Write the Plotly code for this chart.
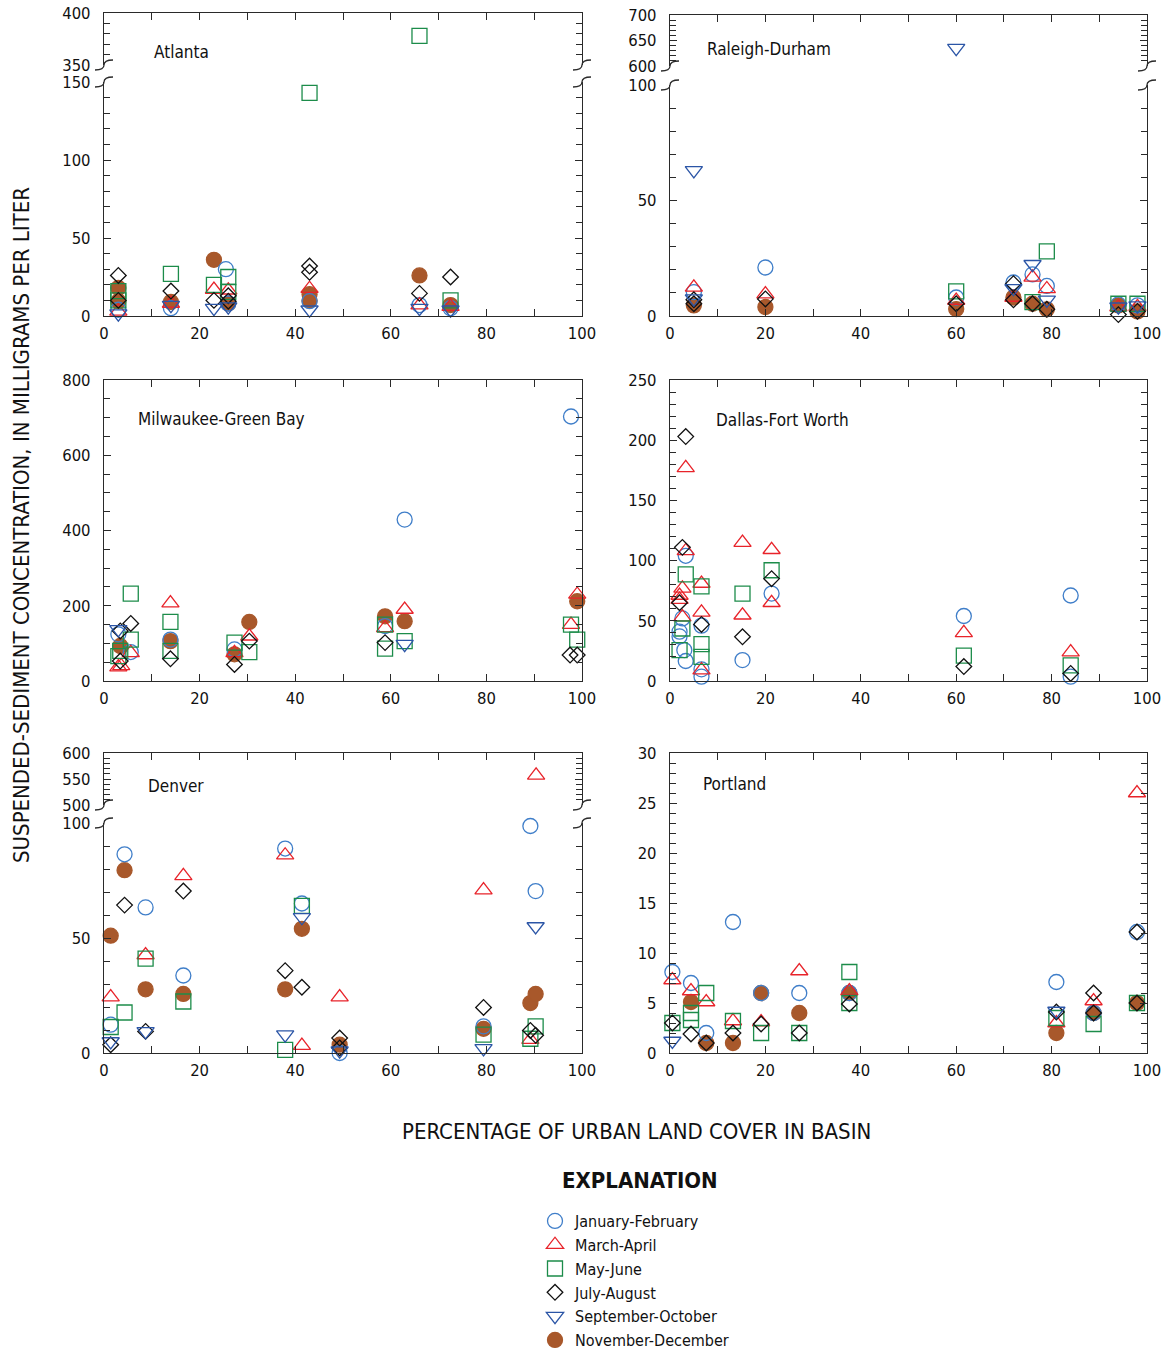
import plotly.graph_objects as go

W, H = 1169, 1354
FONT = "Liberation Sans Narrow, DejaVu Sans Condensed, Arial Narrow, Liberation Sans, sans-serif"

SEASONS = ["January-February", "March-April", "May-June",
           "July-August", "September-October", "November-December"]

# ---------------- data: (percent urban, concentration mg/L) ----------------
ATL_JF = ([3, 14, 25.5, 26, 43, 66, 72.5], [4, 5, 30, 8, 9.5, 7, 5])
ATL_MA = ([3, 14, 23, 26, 43, 66, 72.5], [3, 8, 17, 16.5, 17.5, 7, 6])
ATL_MJ = ([3, 3, 14, 23, 26, 26, 43, 66, 72.5], [16, 10, 27, 20, 25, 15.5, 143, 378, 10])
ATL_JA = ([3, 3, 14, 23, 26, 26, 43, 43, 66, 72.5], [26, 10, 16, 10, 13, 9.5, 32, 28, 14.5, 25])
ATL_SO = ([3, 14, 23, 26, 43, 66, 72.5], [1.5, 7, 5, 6, 4, 5, 4])
ATL_ND = ([3, 3, 14, 23, 26, 43, 43, 66, 72.5], [18, 9.5, 9, 36, 8, 14, 10, 26, 7])

RAL_JF = ([5, 20, 60, 72, 76, 79, 94, 98], [10.3, 21, 8, 14.5, 18, 13, 5, 4.6])
RAL_MA = ([5, 20, 60, 72, 76, 79, 94, 98], [12.4, 9.5, 6.7, 8, 16.7, 11.7, 3.9, 4])
RAL_MJ = ([60, 76, 79, 94, 98], [10.7, 6, 28, 5.3, 5.3])
RAL_JA = ([5, 5, 20, 60, 72, 72, 76, 79, 94, 98], [7, 5.3, 7.4, 5.3, 14, 7, 5.3, 2.9, 0.6, 2])
RAL_SO = ([5, 5, 60, 72, 76, 79, 94, 98], [63, 7.5, 635, 12, 22.4, 7, 4, 4.5])
RAL_ND = ([5, 20, 60, 72, 76, 79, 94, 98], [4.6, 3.9, 3, 8, 5.3, 2.9, 4.6, 2])

MIL_JF = ([3, 5.6, 13.9, 27.3, 58.8, 62.9, 97.7], [124, 77, 110, 84, 146, 429, 703])
MIL_MA = ([3, 3.6, 5.6, 13.9, 27.3, 30.4, 58.8, 62.9, 97.7, 99],
          [37, 40, 75, 207, 75, 119, 141, 190, 150, 230])
MIL_MJ = ([3, 3.4, 5.6, 5.6, 13.9, 13.9, 27.3, 30.4, 58.8, 58.8, 62.9, 97.7, 99],
          [66, 80, 232, 110, 157, 80, 102, 77, 150, 86, 106, 150, 110])
MIL_JA = ([3.4, 3.4, 5.6, 13.9, 27.3, 30.4, 58.8, 97.5, 99], [133, 53, 153, 59, 44, 106, 102, 69, 69])
MIL_SO = ([3, 62.9], [137, 98])
MIL_ND = ([3.4, 13.9, 27.3, 30.4, 58.8, 62.9, 99], [93, 106, 71, 157, 172, 159, 212])

DAL_JF = ([3.3, 2.6, 2, 2, 3, 3.3, 6.6, 6.6, 6.6, 15.2, 21.3, 61.6, 84, 84],
          [104, 52, 41, 37, 25.7, 16.6, 46, 9.7, 3.6, 17.4, 72.6, 54, 71, 3.6])
DAL_MA = ([3.3, 3.3, 2.6, 2, 2, 2.6, 6.6, 6.6, 6.6, 15.2, 15.2, 21.3, 21.3, 61.6, 84],
          [177, 108, 77, 71, 67.6, 53, 81, 57, 9, 115, 54.6, 109, 65, 40, 24])
DAL_MJ = ([3.3, 2.6, 2, 6.6, 6.6, 6.6, 15.2, 21.3, 61.6, 84],
          [88.6, 43.6, 25.7, 78.6, 30.6, 20, 72.6, 92, 21, 13])
DAL_JA = ([3.3, 2.6, 2, 6.6, 15.2, 21.3, 61.6, 84], [203, 111, 65, 47, 36.7, 85, 12, 6.3])
DAL_SO = ([], [])
DAL_ND = ([], [])

DEN_JF = ([1.4, 4.3, 8.7, 16.6, 37.9, 41.4, 49.3, 79.4, 89.2, 90.3],
          [12.3, 86.4, 63.3, 33.7, 88.9, 65, 0, 11.6, 98.7, 70.4])
DEN_MA = ([1.4, 8.7, 16.6, 37.9, 41.4, 49.3, 79.4, 89.2, 90.4],
          [24.3, 42.6, 77, 86, 3.2, 24.3, 70.8, 5.8, 557])
DEN_MJ = ([1.4, 4.3, 8.7, 16.6, 37.9, 41.4, 79.4, 89.2, 90.3],
          [11.3, 17.6, 41, 22.4, 1.4, 64, 8, 6.2, 11.6])
DEN_JA = ([1.4, 4.3, 8.7, 16.6, 37.9, 41.4, 49.3, 49.3, 79.4, 89.2, 90.3],
          [3.6, 64.3, 9.4, 70.4, 35.8, 28.6, 6.5, 2.2, 19.8, 9.8, 7.7])
DEN_SO = ([1.4, 8.7, 37.9, 41.4, 49.3, 79.4, 90.3], [5, 9.4, 8, 59, 1, 2, 55])
DEN_ND = ([1.4, 4.3, 8.7, 16.6, 37.9, 41.4, 49.3, 79.4, 89.2, 90.3],
          [51, 79.5, 27.7, 25.7, 27.7, 54, 3.6, 10.5, 21.7, 25.7])

POR_JF = ([0.5, 4.4, 7.6, 13.2, 19.1, 27.1, 37.6, 81, 88.8, 97.9],
          [8.1, 7, 2, 13.1, 6, 6, 6, 7.1, 4, 12.1])
POR_MA = ([0.5, 4.4, 7.6, 13.2, 19.1, 27.1, 37.6, 81, 88.8, 97.9],
          [7.3, 6.2, 5.1, 3.2, 3.1, 8.2, 6.2, 3, 5.2, 26])
POR_MJ = ([0.5, 4.4, 4.4, 7.6, 13.2, 19.1, 27.1, 37.6, 37.6, 81, 88.8, 97.9],
          [3, 4, 3.3, 6, 3.2, 2, 2, 8.1, 5, 3.5, 2.9, 5])
POR_JA = ([0.5, 4.4, 7.6, 13.2, 19.1, 27.1, 37.6, 81, 88.8, 88.8, 97.9, 97.9],
          [3, 1.9, 1, 2, 2.9, 2, 4.9, 4.1, 6, 4, 12.1, 5])
POR_SO = ([0.5, 81], [1.2, 4.2])
POR_ND = ([4.4, 7.6, 13.2, 19.1, 27.1, 37.6, 81, 88.8, 97.9], [5.1, 1, 1, 6, 4, 6, 2, 4, 5])

# ---------------- styling ----------------
SYMBOLS = ["circle-open", "triangle-up-open", "square-open", "diamond-open",
           "triangle-down-open", "circle"]
COLORS = ["#3f7ec9", "#e8232a", "#1c8c4a", "#111111", "#2b55a6", "#a8582b"]
SIZES = [15, 15, 15, 12, 15, 15]
DRAW_ORDER = [5, 0, 1, 2, 3, 4]
AXC = "#2a2a2a"


def fx(p):
    return p / W


def fy(p):
    return 1 - p / H


# panel layout: x px span, lower (top px, bottom px, min, max, label step, minor step), optional upper
PANELS = [
    dict(name="Atlanta", data=[ATL_JF, ATL_MA, ATL_MJ, ATL_JA, ATL_SO, ATL_ND],
         xpx=(104, 582), low=(82, 316, 0, 150, 50, 10), up=(13, 65, 350, 400, 50, 10),
         label=(152, 52)),
    dict(name="Raleigh-Durham", data=[RAL_JF, RAL_MA, RAL_MJ, RAL_JA, RAL_SO, RAL_ND],
         xpx=(670, 1147), low=(85, 316, 0, 100, 50, 10), up=(15, 66, 600, 700, 50, 10),
         label=(705, 49)),
    dict(name="Milwaukee-Green Bay", data=[MIL_JF, MIL_MA, MIL_MJ, MIL_JA, MIL_SO, MIL_ND],
         xpx=(104, 582), low=(380, 681, 0, 800, 200, 50), up=None, label=(136, 419)),
    dict(name="Dallas-Fort Worth", data=[DAL_JF, DAL_MA, DAL_MJ, DAL_JA, DAL_SO, DAL_ND],
         xpx=(670, 1147), low=(380, 681, 0, 250, 50, 10), up=None, label=(714, 420)),
    dict(name="Denver", data=[DEN_JF, DEN_MA, DEN_MJ, DEN_JA, DEN_SO, DEN_ND],
         xpx=(104, 582), low=(823, 1053, 0, 100, 50, 10), up=(753, 805, 500, 600, 50, 10),
         label=(146, 786)),
    dict(name="Portland", data=[POR_JF, POR_MA, POR_MJ, POR_JA, POR_SO, POR_ND],
         xpx=(670, 1147), low=(753, 1053, 0, 30, 5, 1), up=None, label=(701, 784)),
]

fig = go.Figure()
layout = {}
annotations = []
shapes = []

tickfont = dict(family=FONT, size=16.5, color="#111111")
common = dict(showline=True, linecolor=AXC, linewidth=1.3, ticks="inside",
              tickcolor=AXC, tickwidth=1.2, ticklen=7, showgrid=False, zeroline=False,
              tickfont=tickfont, fixedrange=True, automargin=False)


def names(n):
    s = "" if n == 1 else str(n)
    return "xaxis" + s, "yaxis" + s, "x" + s, "y" + s


n = 0
first = True
for p in PANELS:
    xd = [fx(p["xpx"][0]), fx(p["xpx"][1])]
    broken = p["up"] is not None
    n += 1
    lo = n
    xa, ya, xr, yr = names(lo)
    ltop, lbot, lmin, lmax, lstep, lminor = p["low"]
    layout[xa] = dict(common, domain=xd, anchor=yr, range=[0, 100], dtick=20, tick0=0,
                      minor=dict(dtick=10, ticks="inside", ticklen=7, tickcolor=AXC),
                      mirror=False if broken else "ticks", ticklabelstandoff=2)
    layout[ya] = dict(common, domain=[fy(lbot), fy(ltop)], anchor=xr, range=[lmin, lmax],
                      dtick=lstep, tick0=0, mirror="ticks", ticklabelstandoff=9,
                      minor=dict(dtick=lminor, ticks="inside", ticklen=6, tickcolor=AXC))
    axes_low = (xr, yr)
    axes_up = None
    if broken:
        n += 1
        xa2, ya2, xr2, yr2 = names(n)
        utop, ubot, umin, umax, ustep, uminor = p["up"]
        layout[xa2] = dict(common, domain=xd, anchor=yr2, range=[0, 100], dtick=20, tick0=0,
                           side="top", showticklabels=False, mirror=False,
                           minor=dict(dtick=10, ticks="inside", ticklen=7, tickcolor=AXC))
        layout[ya2] = dict(common, domain=[fy(ubot), fy(utop)], anchor=xr2,
                           range=[umin, umax], dtick=ustep, tick0=0, mirror="ticks",
                           ticklabelstandoff=9,
                           minor=dict(dtick=uminor, ticks="inside", ticklen=6, tickcolor=AXC))
        axes_up = (xr2, yr2)
        # break marks on both sides at both segment ends
        for xp in p["xpx"]:
            for yp in (ubot, ltop):
                path = (f"M {fx(xp - 9)},{fy(yp + 5)} Q {fx(xp)},{fy(yp + 5)} {fx(xp)},{fy(yp)} "
                        f"Q {fx(xp)},{fy(yp - 5)} {fx(xp + 9)},{fy(yp - 5)}")
                shapes.append(dict(type="path", xref="paper", yref="paper", path=path,
                                   line=dict(color=AXC, width=1.3)))

    for si in DRAW_ORDER:
        xs, ys = p["data"][si]
        lx = [x for x, y in zip(xs, ys) if y <= lmax]
        ly = [y for y in ys if y <= lmax]
        ux = [x for x, y in zip(xs, ys) if y > lmax]
        uy = [y for y in ys if y > lmax]
        marker = dict(symbol=SYMBOLS[si], size=SIZES[si], color=COLORS[si],
                      line=dict(color=COLORS[si], width=1.3))
        fig.add_trace(go.Scatter(x=lx, y=ly, mode="markers", marker=marker,
                                 xaxis=axes_low[0], yaxis=axes_low[1], name=SEASONS[si],
                                 showlegend=first, legendrank=si + 1, cliponaxis=False))
        if broken and ux:
            fig.add_trace(go.Scatter(x=ux, y=uy, mode="markers", marker=marker,
                                     xaxis=axes_up[0], yaxis=axes_up[1], name=SEASONS[si],
                                     showlegend=False, cliponaxis=False))
    first = False

    annotations.append(dict(text=p["name"], xref="paper", yref="paper",
                            x=fx(p["label"][0]), y=fy(p["label"][1]), xanchor="left",
                            yanchor="middle", showarrow=False,
                            font=dict(family=FONT, size=17, color="#111111")))

annotations += [
    dict(text="SUSPENDED-SEDIMENT CONCENTRATION, IN MILLIGRAMS PER LITER", xref="paper",
         yref="paper", x=fx(22), y=fy(525), textangle=-90, showarrow=False,
         xanchor="center", yanchor="middle",
         font=dict(family=FONT, size=22, color="#111111")),
    dict(text="PERCENTAGE OF URBAN LAND COVER IN BASIN", xref="paper", yref="paper",
         x=fx(636), y=fy(1131), showarrow=False, xanchor="center", yanchor="middle",
         font=dict(family=FONT, size=22, color="#111111")),
    dict(text="<b>EXPLANATION</b>", xref="paper", yref="paper", x=fx(640), y=fy(1180),
         showarrow=False, xanchor="center", yanchor="middle",
         font=dict(family=FONT, size=22, color="#111111")),
]

fig.update_layout(
    width=W, height=H, autosize=False,
    margin=dict(l=0, r=0, t=0, b=0, autoexpand=False),
    paper_bgcolor="white", plot_bgcolor="white",
    showlegend=True,
    legend=dict(x=fx(535), y=fy(1204), xanchor="left", yanchor="top",
                font=dict(family=FONT, size=16, color="#111111"),
                bgcolor="rgba(0,0,0,0)", tracegroupgap=0, itemclick=False),
    annotations=annotations, shapes=shapes,
    **layout,
)

fig.write_html("out.html")
